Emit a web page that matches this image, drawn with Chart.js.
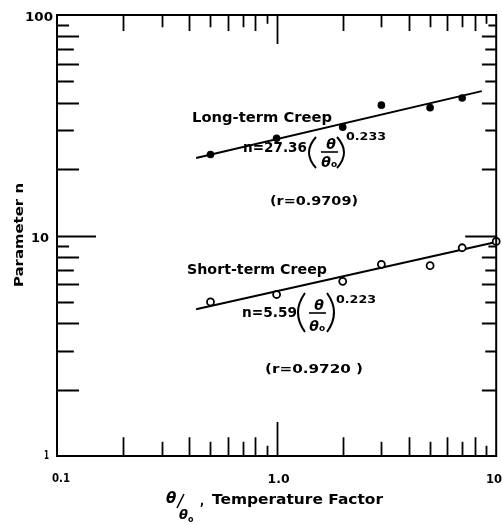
<!DOCTYPE html>
<html lang="en">
<head>
  <meta charset="UTF-8">
  <title>Parameter n vs Temperature Factor</title>
  <script src="https://cdn.jsdelivr.net/npm/chart.js"></script>
  <style>
    html, body { margin: 0; padding: 0; background: #fff; overflow: hidden; }
    #wrap { width: 502px; height: 525px; position: relative; }
  </style>
</head>
<body>
  <div id="wrap"><canvas id="grafico"></canvas></div>
  <script>
    // Long-term creep tests (filled dots)
    const longTheta = [0.5, 1, 2, 3, 5, 7];
    const longN = [23.3, 27.6, 31, 39, 38, 42];
    // Short-term creep tests (open dots)
    const shortTheta = [0.5, 1, 2, 3, 5, 7, 10];
    const shortN = [5.0, 5.4, 6.2, 7.4, 7.3, 8.8, 9.4];

    // Power-law fits n = a * (θ/θo)^b, and the θ range each line covers
    const longFit = [27.36, 0.233];
    const longSpan = [0.43, 8.6];
    const shortFit = [5.59, 0.223];
    const shortSpan = [0.43, 10];

    const xLabels = ["0.1", "1.0", "10"];
    const yLabels = ["1", "10", "100"];

    const toPts = (xs, ys) => xs.map((x, i) => ({ x: x, y: ys[i] }));
    const fitLine = (fit, span) => span.map(x => ({ x: x, y: fit[0] * Math.pow(x, fit[1]) }));

    const FONT = "'DejaVu Sans', sans-serif";

    // text squeezed/stretched to a given width
    function fitText(ctx, txt, x, y, w, font, align) {
      ctx.save();
      ctx.font = font;
      const m = ctx.measureText(txt).width;
      const k = w / m;
      let x0 = x;
      if (align === "right") x0 = x - w;
      if (align === "center") x0 = x - w / 2;
      ctx.translate(x0, y);
      ctx.scale(k, 1);
      ctx.textAlign = "left";
      ctx.textBaseline = "alphabetic";
      ctx.fillText(txt, 0, 0);
      ctx.restore();
    }

    function paren(ctx, x, top, bot, open) {
      const mid = (top + bot) / 2;
      ctx.beginPath();
      if (open) {
        ctx.moveTo(x + 8, top);
        ctx.quadraticCurveTo(x - 6, mid, x + 8, bot);
      } else {
        ctx.moveTo(x, top);
        ctx.quadraticCurveTo(x + 14, mid, x, bot);
      }
      ctx.stroke();
    }

    // n = a (θ/θo)^b
    function equation(ctx, e) {
      fitText(ctx, e.lead, e.x, e.base, e.leadW, "bold 14px " + FONT);
      ctx.lineWidth = 2;
      paren(ctx, e.px, e.top, e.bot, true);
      ctx.font = "italic bold 14px " + FONT;
      ctx.textAlign = "center";
      ctx.fillText("θ", e.fx + 2, e.bar - 3);
      ctx.lineWidth = 1.6;
      ctx.beginPath();
      ctx.moveTo(e.fx - 8, e.bar);
      ctx.lineTo(e.fx + 9, e.bar);
      ctx.stroke();
      ctx.fillText("θ", e.fx - 3, e.bot - 1);
      ctx.font = "bold 9px " + FONT;
      ctx.fillText("o", e.fx + 5, e.bot - 1);
      ctx.lineWidth = 2;
      paren(ctx, e.qx, e.top, e.bot, false);
      fitText(ctx, e.pow, e.qx + 9, e.powBase, 40, "bold 11px " + FONT);
    }

    const decorations = {
      id: "decorations",
      afterDraw(chart) {
        const ctx = chart.ctx;
        const a = chart.chartArea;
        const sx = chart.scales.x, sy = chart.scales.y;
        ctx.save();
        ctx.strokeStyle = "#000";
        ctx.fillStyle = "#000";

        // frame
        ctx.lineWidth = 2;
        ctx.strokeRect(a.left, a.top, a.right - a.left, a.bottom - a.top);

        // inward tick marks on all four sides
        const len = m => m === 1 ? 1 : (m % 2 === 0 ? 0.55 : (m === 9 ? 0.3 : 0.42));
        ctx.lineWidth = 1.8;
        [0.1, 1].forEach(dec => {
          for (let m = 1; m <= 9; m++) {
            const v = dec * m;
            if (v <= 0.1) continue;
            const px = Math.round(sx.getPixelForValue(v)) + 0.5;
            const f = len(m);
            ctx.beginPath();
            ctx.moveTo(px, a.bottom);
            ctx.lineTo(px, a.bottom - 34 * f);
            ctx.moveTo(px, a.top);
            ctx.lineTo(px, a.top + 29 * f);
            ctx.stroke();
          }
        });
        [1, 10].forEach(dec => {
          for (let m = 1; m <= 9; m++) {
            const v = dec * m;
            if (v <= 1) continue;
            const py = Math.round(sy.getPixelForValue(v)) + 0.5;
            const f = len(m);
            ctx.beginPath();
            ctx.moveTo(a.left, py);
            ctx.lineTo(a.left + (m === 1 ? 39 : 40 * f), py);
            ctx.moveTo(a.right, py);
            ctx.lineTo(a.right - (m === 1 ? 31 : 26 * f), py);
            ctx.stroke();
          }
        });

        // tick labels
        const xv = [0.1, 1, 10];
        fitText(ctx, xLabels[0], sx.getPixelForValue(xv[0]) + 4, 482, 18, "bold 13px " + FONT, "center");
        fitText(ctx, xLabels[1], sx.getPixelForValue(xv[1]) + 2, 483, 22, "bold 13px " + FONT, "center");
        fitText(ctx, xLabels[2], 502, 483, 16, "bold 13px " + FONT, "right");
        const yv = [1, 10, 100];
        fitText(ctx, yLabels[0], a.left - 8, sy.getPixelForValue(yv[0]) + 3, 5, "bold 13px " + FONT, "right");
        fitText(ctx, yLabels[1], a.left - 8, sy.getPixelForValue(yv[1]) + 6, 18, "bold 13px " + FONT, "right");
        fitText(ctx, yLabels[2], a.left - 4, sy.getPixelForValue(yv[2]) + 6, 28, "bold 13px " + FONT, "right");

        // y title
        ctx.save();
        ctx.translate(23, 235);
        ctx.rotate(-Math.PI / 2);
        fitText(ctx, "Parameter n", 0, 0, 104, "bold 13px " + FONT, "center");
        ctx.restore();

        // x title: θ/θo , Temperature Factor
        ctx.font = "italic bold 15px " + FONT;
        ctx.textAlign = "left";
        ctx.fillText("θ", 166, 503);
        ctx.lineWidth = 1.6;
        ctx.beginPath();
        ctx.moveTo(177, 508);
        ctx.lineTo(184, 494);
        ctx.stroke();
        ctx.font = "italic bold 13px " + FONT;
        ctx.fillText("θ", 179, 519);
        ctx.font = "bold 8px " + FONT;
        ctx.fillText("o", 188, 522);
        fitText(ctx, ",", 200, 505, 4, "bold 13px " + FONT);
        fitText(ctx, "Temperature Factor", 212, 504, 171, "bold 14px " + FONT);

        // annotations
        fitText(ctx, "Long-term Creep", 192, 122, 140, "bold 14px " + FONT);
        fitText(ctx, "(r=0.9709)", 270, 205, 88, "bold 13px " + FONT);
        fitText(ctx, "Short-term Creep", 187, 274, 140, "bold 14px " + FONT);
        fitText(ctx, "(r=0.9720 )", 265, 373, 98, "bold 13px " + FONT);

        equation(ctx, { lead: "n=" + longFit[0], x: 243, base: 152, leadW: 64,
          px: 308, qx: 337, top: 137, bot: 168, fx: 329, bar: 152,
          pow: String(longFit[1]), powBase: 140 });
        equation(ctx, { lead: "n=" + shortFit[0], x: 242, base: 317, leadW: 55,
          px: 297, qx: 327, top: 293, bot: 332, fx: 317, bar: 313,
          pow: String(shortFit[1]), powBase: 303 });

        ctx.restore();
      }
    };

    new Chart(document.getElementById("grafico"), {
      type: "scatter",
      data: {
        datasets: [
          {
            label: "Long-term Creep",
            data: toPts(longTheta, longN),
            pointRadius: 3.8,
            backgroundColor: "#000",
            borderColor: "#000",
            borderWidth: 0,
            clip: false
          },
          {
            label: "Short-term Creep",
            data: toPts(shortTheta, shortN),
            pointRadius: 3.5,
            backgroundColor: "#fff",
            borderColor: "#000",
            borderWidth: 1.8,
            clip: false
          },
          {
            label: "Long-term fit",
            data: fitLine(longFit, longSpan),
            showLine: true,
            borderColor: "#000",
            borderWidth: 2,
            pointRadius: 0,
            clip: false
          },
          {
            label: "Short-term fit",
            data: fitLine(shortFit, shortSpan),
            showLine: true,
            borderColor: "#000",
            borderWidth: 2,
            pointRadius: 0,
            clip: false
          }
        ]
      },
      options: {
        responsive: true,
        maintainAspectRatio: false,
        animation: false,
        layout: { padding: { left: 57, right: 4, top: 15, bottom: 69 } },
        scales: {
          x: { type: "logarithmic", min: 0.1, max: 10, display: false },
          y: { type: "logarithmic", min: 1, max: 100, display: false }
        },
        plugins: {
          legend: { display: false },
          tooltip: { enabled: false }
        }
      },
      plugins: [decorations]
    });
  </script>
</body>
</html>
